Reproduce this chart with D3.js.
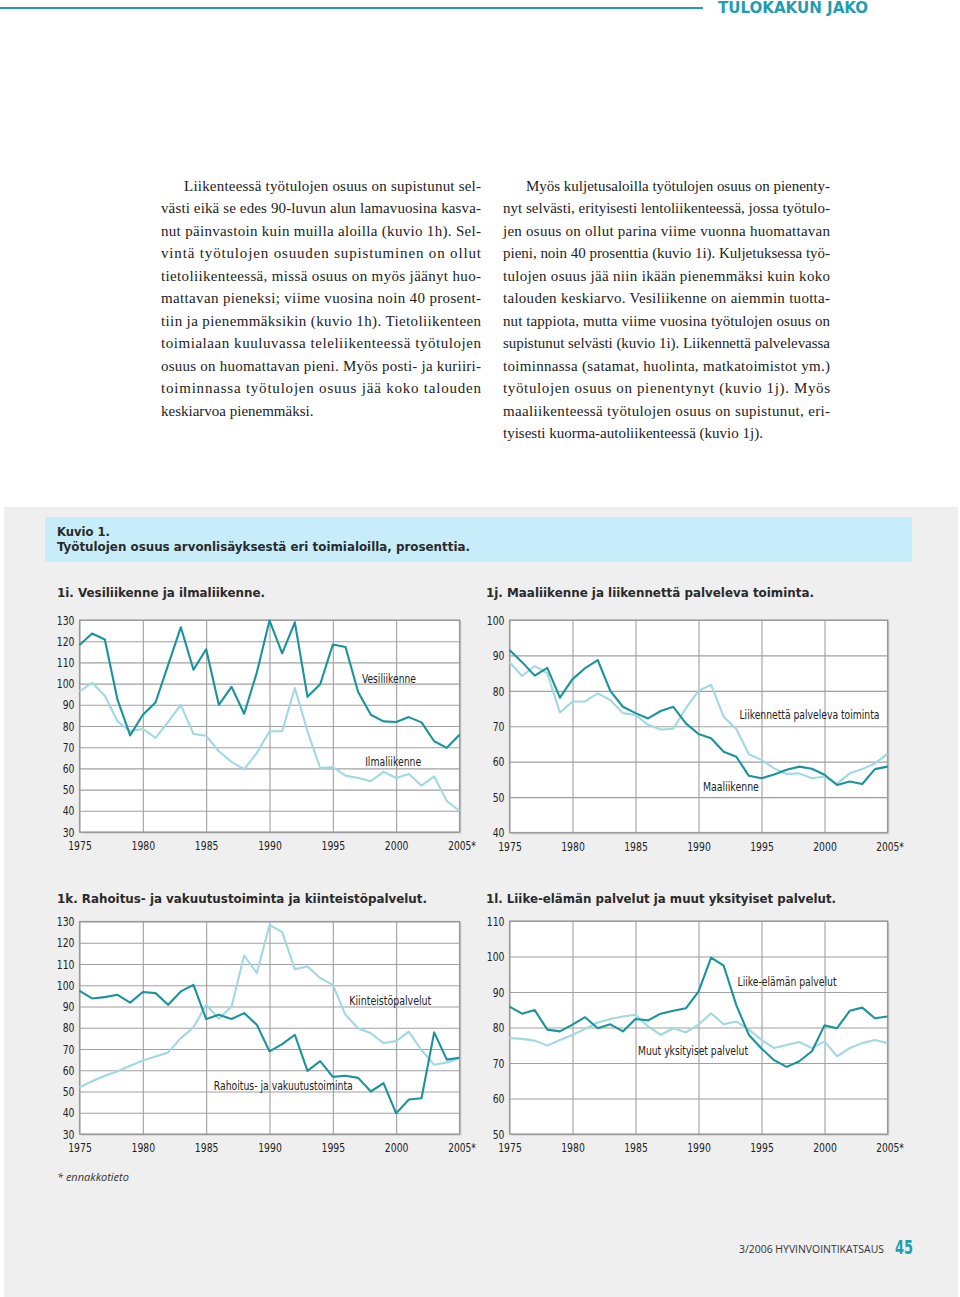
<!DOCTYPE html>
<html><head><meta charset="utf-8">
<script src="https://cdn.jsdelivr.net/npm/d3@7"></script>
<style>
html,body{margin:0;padding:0;background:#fff;}
svg{display:block;}
</style></head>
<body>
<svg id="page" width="960" height="1297"></svg>
<script>
// ---------- DATA ----------
const years = d3.range(1975, 2006);
const xTickYears = [1975, 1980, 1985, 1990, 1995, 2000, 2005];
const xTickLabels = ["1975", "1980", "1985", "1990", "1995", "2000", "2005*"];

// 1i
const vesiliikenne = [118.2,123.6,120.8,92.4,75.6,85.3,91.1,108.8,126.6,106.5,116.2,90.0,98.5,85.8,105.2,129.8,114.3,128.9,93.8,99.7,118.4,117.3,96.0,85.3,82.2,81.9,84.2,81.7,72.8,69.7,75.9];
const ilmaliikenne = [96.3,100.4,94.3,82.2,77.6,78.6,74.4,81.9,90.0,76.2,75.4,68.1,63.1,59.6,67.3,77.5,77.5,97.9,77.5,60.2,60.6,56.6,55.5,54.0,58.4,55.5,57.4,51.9,56.2,44.6,39.9];
const ticks1i = [30,40,50,60,70,80,90,100,110,120,130];
// 1j
const maaliikenne = [91.5,88.1,84.3,86.5,78.1,83.3,86.4,88.7,80.0,75.5,73.7,72.2,74.3,75.5,70.8,67.8,66.6,62.8,61.4,56.0,55.3,56.4,57.7,58.6,58.0,56.3,53.4,54.4,53.7,57.9,58.6];
const palveleva = [88.1,84.2,87.0,85.0,73.9,77.0,77.0,79.3,77.4,73.7,73.2,70.4,69.1,69.3,75.1,80.0,81.7,72.7,69.2,62.1,60.5,58.1,56.5,56.7,55.3,55.8,53.8,56.7,57.9,59.5,62.2];
const ticks1j = [40,50,60,70,80,90,100];
// 1k
const rahoitus = [97.4,93.8,94.4,95.5,91.8,96.8,96.3,90.8,97.1,100.2,84.1,86.1,84.1,86.9,81.4,68.9,72.3,76.7,59.7,64.3,56.9,57.4,56.4,50.0,53.9,39.7,46.2,46.8,77.8,65.0,65.9];
const kiinteisto = [52.0,54.8,57.4,59.5,62.1,64.6,66.5,68.4,75.1,80.2,90.8,84.2,90.0,114.0,105.7,128.4,125.0,107.6,108.8,103.4,100.2,86.1,79.8,77.4,72.8,73.7,78.2,69.5,62.6,63.7,65.7];
const ticks1k = [30,40,50,60,70,80,90,100,110,120,130];
// 1l
const liikeelaman = [85.9,83.9,84.9,79.4,78.9,80.8,82.9,79.8,80.9,78.9,82.4,82.0,83.9,84.7,85.4,90.1,99.7,97.4,86.3,77.9,74.1,70.8,68.9,70.5,73.3,80.6,79.8,84.7,85.6,82.6,83.1];
const muut = [77.0,76.8,76.3,74.9,76.5,77.9,79.6,81.4,82.4,83.1,83.6,80.3,77.9,79.8,78.6,80.8,84.0,80.9,81.7,79.4,76.5,74.2,75.1,75.9,74.2,76.1,71.9,74.2,75.6,76.5,75.6];
const ticks1l = [50,60,70,80,90,100,110];

// ---------- TEXT ----------
const colLeft = [
 "Liikenteessä työtulojen osuus on supistunut sel-",
 "västi eikä se edes 90-luvun alun lamavuosina kasva-",
 "nut päinvastoin kuin muilla aloilla (kuvio 1h). Sel-",
 "vintä työtulojen osuuden supistuminen on ollut",
 "tietoliikenteessä, missä osuus on myös jäänyt huo-",
 "mattavan pieneksi; viime vuosina noin 40 prosent-",
 "tiin ja pienemmäksikin (kuvio 1h). Tietoliikenteen",
 "toimialaan kuuluvassa teleliikenteessä työtulojen",
 "osuus on huomattavan pieni. Myös posti- ja kuriiri-",
 "toiminnassa työtulojen osuus jää koko talouden",
 "keskiarvoa pienemmäksi."
];
const colRight = [
 "Myös kuljetusaloilla työtulojen osuus on pienenty-",
 "nyt selvästi, erityisesti lentoliikenteessä, jossa työtulo-",
 "jen osuus on ollut parina viime vuonna huomattavan",
 "pieni, noin 40 prosenttia (kuvio 1i). Kuljetuksessa työ-",
 "tulojen osuus jää niin ikään pienemmäksi kuin koko",
 "talouden keskiarvo. Vesiliikenne on aiemmin tuotta-",
 "nut tappiota, mutta viime vuosina työtulojen osuus on",
 "supistunut selvästi (kuvio 1i). Liikennettä palvelevassa",
 "toiminnassa (satamat, huolinta, matkatoimistot ym.)",
 "työtulojen osuus on pienentynyt (kuvio 1j). Myös",
 "maaliikenteessä työtulojen osuus on supistunut, eri-",
 "tyisesti kuorma-autoliikenteessä (kuvio 1j)."
];

// ---------- STYLE ----------
const TEAL = "#1f9eb1";
const DARK = "#1a939b";
const LIGHT = "#a2d8e3";
const NARROW = "'Liberation Sans Narrow','DejaVu Sans Condensed','Roboto Condensed',sans-serif";
const SERIF = "'Liberation Serif','DejaVu Serif',serif";
const BOLD = "'DejaVu Sans Condensed','Open Sans',sans-serif";
const DIGIT_W = 5.9;

const svg = d3.select("#page");

// header
svg.append("line").attr("x1",0).attr("x2",703).attr("y1",8).attr("y2",8)
  .attr("stroke",TEAL).attr("stroke-width",2);
svg.append("text").attr("x",718).attr("y",13).attr("textLength",150).attr("lengthAdjust","spacingAndGlyphs")
  .attr("font-family",BOLD).attr("font-weight","bold").attr("font-size",15).attr("fill",TEAL)
  .text("TULOKAKUN JAKO");

// body text
function column(lines, x, w, y0) {
  lines.forEach((t,i)=>{
    const indent = i===0 ? 23 : 0;
    const el = svg.append("text").attr("x",x+indent).attr("y",y0+i*22.45)
      .attr("font-family",SERIF).attr("font-size",15).attr("fill","#222").text(t);
    if (i < lines.length-1) el.attr("textLength",w-indent).attr("lengthAdjust","spacing");
  });
}
column(colLeft, 161, 320, 191);
column(colRight, 503, 327, 191);

// grey panel
svg.append("rect").attr("x",4).attr("y",507).attr("width",954).attr("height",790).attr("fill","#efefef");
svg.append("rect").attr("x",45).attr("y",517).attr("width",867).attr("height",45).attr("fill","#c7edfa");
svg.append("text").attr("x",57).attr("y",536).attr("font-family",BOLD).attr("font-weight","bold")
  .attr("font-size",13).attr("fill","#2a2a2a").attr("textLength",53).attr("lengthAdjust","spacingAndGlyphs").text("Kuvio 1.");
svg.append("text").attr("x",57).attr("y",551).attr("font-family",BOLD).attr("font-weight","bold")
  .attr("font-size",13).attr("fill","#2a2a2a").attr("textLength",413).attr("lengthAdjust","spacingAndGlyphs")
  .text("Työtulojen osuus arvonlisäyksestä eri toimialoilla, prosenttia.");

function tickLen(t){ return t.replace("*","").length*DIGIT_W + (t.includes("*")?4:0); }

// charts
function chart(cfg) {
  const x = d3.scaleLinear().domain([1975,2005]).range([cfg.x0,cfg.x1]);
  const y = d3.scaleLinear().domain(cfg.domain).range([cfg.y1,cfg.y0]);
  const g = svg.append("g");
  g.append("text").attr("x",cfg.tx).attr("y",cfg.ty).attr("font-family",BOLD).attr("font-weight","bold")
    .attr("font-size",13).attr("fill","#2a2a2a").attr("textLength",cfg.tw).attr("lengthAdjust","spacingAndGlyphs")
    .text(cfg.title);
  // shadow + background
  g.append("rect").attr("x",cfg.x0+2).attr("y",cfg.y0+2).attr("width",cfg.x1-cfg.x0).attr("height",cfg.y1-cfg.y0).attr("fill","#d9d9d9");
  g.append("rect").attr("x",cfg.x0).attr("y",cfg.y0).attr("width",cfg.x1-cfg.x0).attr("height",cfg.y1-cfg.y0).attr("fill","#fff");
  // grid + axes
  g.append("g").attr("transform",`translate(0,${cfg.y1})`)
    .call(d3.axisBottom(x).tickValues(xTickYears).tickSize(-(cfg.y1-cfg.y0)).tickFormat((d,i)=>xTickLabels[i]))
    .call(a=>{a.select(".domain").remove();
      a.selectAll("line").attr("stroke","#a0a0a0").attr("stroke-width",1.1);
      a.selectAll("text").attr("font-family",NARROW).attr("font-size",13).attr("fill","#222")
        .attr("y",3).attr("dy",15)
        .attr("textLength",function(){return tickLen(this.textContent);}).attr("lengthAdjust","spacingAndGlyphs");
      a.selectAll(".tick").filter(d=>d===2005).select("text").attr("dx",2);});
  g.append("g").attr("transform",`translate(${cfg.x0},0)`)
    .call(d3.axisLeft(y).tickValues(cfg.ticks).tickSize(-(cfg.x1-cfg.x0)).tickPadding(5).tickFormat(d3.format("d")))
    .call(a=>{a.select(".domain").remove();
      a.selectAll("line").attr("stroke","#a0a0a0").attr("stroke-width",1.1);
      a.selectAll("text").attr("font-family",NARROW).attr("font-size",13).attr("fill","#222")
        .attr("textLength",function(){return tickLen(this.textContent);}).attr("lengthAdjust","spacingAndGlyphs");});
  g.append("rect").attr("x",cfg.x0).attr("y",cfg.y0).attr("width",cfg.x1-cfg.x0).attr("height",cfg.y1-cfg.y0)
    .attr("fill","none").attr("stroke","#9a9a9a").attr("stroke-width",1.2);
  const line = d3.line().x((d,i)=>x(years[i])).y(d=>y(d));
  cfg.series.forEach(s=>{
    g.append("path").datum(s.values).attr("d",line).attr("fill","none")
      .attr("stroke",s.color).attr("stroke-width",2.1).attr("stroke-linejoin","round");
  });
  cfg.series.forEach(s=>{
    g.append("text").attr("x",x(s.lx)).attr("y",y(s.ly)).attr("font-family",NARROW)
      .attr("font-size",12.5).attr("fill","#222").attr("textLength",s.w).attr("lengthAdjust","spacingAndGlyphs").text(s.name);
  });
}

chart({title:"1i. Vesiliikenne ja ilmaliikenne.", tx:57, ty:597, tw:208,
  x0:79.5, x1:459.5, y0:620, y1:832, domain:[30,130], ticks:ticks1i,
  series:[{name:"Ilmaliikenne",values:ilmaliikenne,color:LIGHT,lx:1997.55,ly:61,w:56},
          {name:"Vesiliikenne",values:vesiliikenne,color:DARK,lx:1997.3,ly:100.3,w:54}]});
chart({title:"1j. Maaliikenne ja liikennettä palveleva toiminta.", tx:486, ty:597, tw:328,
  x0:509.5, x1:887.5, y0:620, y1:832.5, domain:[40,100], ticks:ticks1j,
  series:[{name:"Liikennettä palveleva toiminta",values:palveleva,color:LIGHT,lx:1993.25,ly:72,w:140},
          {name:"Maaliikenne",values:maaliikenne,color:DARK,lx:1990.35,ly:51.8,w:56}]});
chart({title:"1k. Rahoitus- ja vakuutustoiminta ja kiinteistöpalvelut.", tx:57, ty:903, tw:370,
  x0:79.5, x1:459.5, y0:921.5, y1:1134, domain:[30,130], ticks:ticks1k,
  series:[{name:"Kiinteistöpalvelut",values:kiinteisto,color:LIGHT,lx:1996.3,ly:90.8,w:82},
          {name:"Rahoitus- ja vakuutustoiminta",values:rahoitus,color:DARK,lx:1985.6,ly:50.6,w:139}]});
chart({title:"1l. Liike-elämän palvelut ja muut yksityiset palvelut.", tx:486, ty:903, tw:350,
  x0:509.5, x1:887.5, y0:921, y1:1134, domain:[50,110], ticks:ticks1l,
  series:[{name:"Muut yksityiset palvelut",values:muut,color:LIGHT,lx:1985.2,ly:72.3,w:110},
          {name:"Liike-elämän palvelut",values:liikeelaman,color:DARK,lx:1993.1,ly:91.7,w:99}]});

// footnote & footer
svg.append("text").attr("x",57).attr("y",1181).attr("font-family","'Open Sans','DejaVu Sans',sans-serif")
  .attr("font-style","italic").attr("font-size",11).attr("fill","#333").text("* ennakkotieto");
svg.append("text").attr("x",739).attr("y",1253).attr("font-family","'Open Sans','DejaVu Sans',sans-serif")
  .attr("font-size",11).attr("fill","#333").attr("textLength",145).attr("lengthAdjust","spacingAndGlyphs")
  .text("3/2006  HYVINVOINTIKATSAUS");
svg.append("text").attr("x",895).attr("y",1254).attr("font-family",BOLD).attr("font-weight","bold")
  .attr("font-size",19).attr("fill",TEAL).attr("textLength",18).attr("lengthAdjust","spacingAndGlyphs").text("45");
</script>
</body></html>
